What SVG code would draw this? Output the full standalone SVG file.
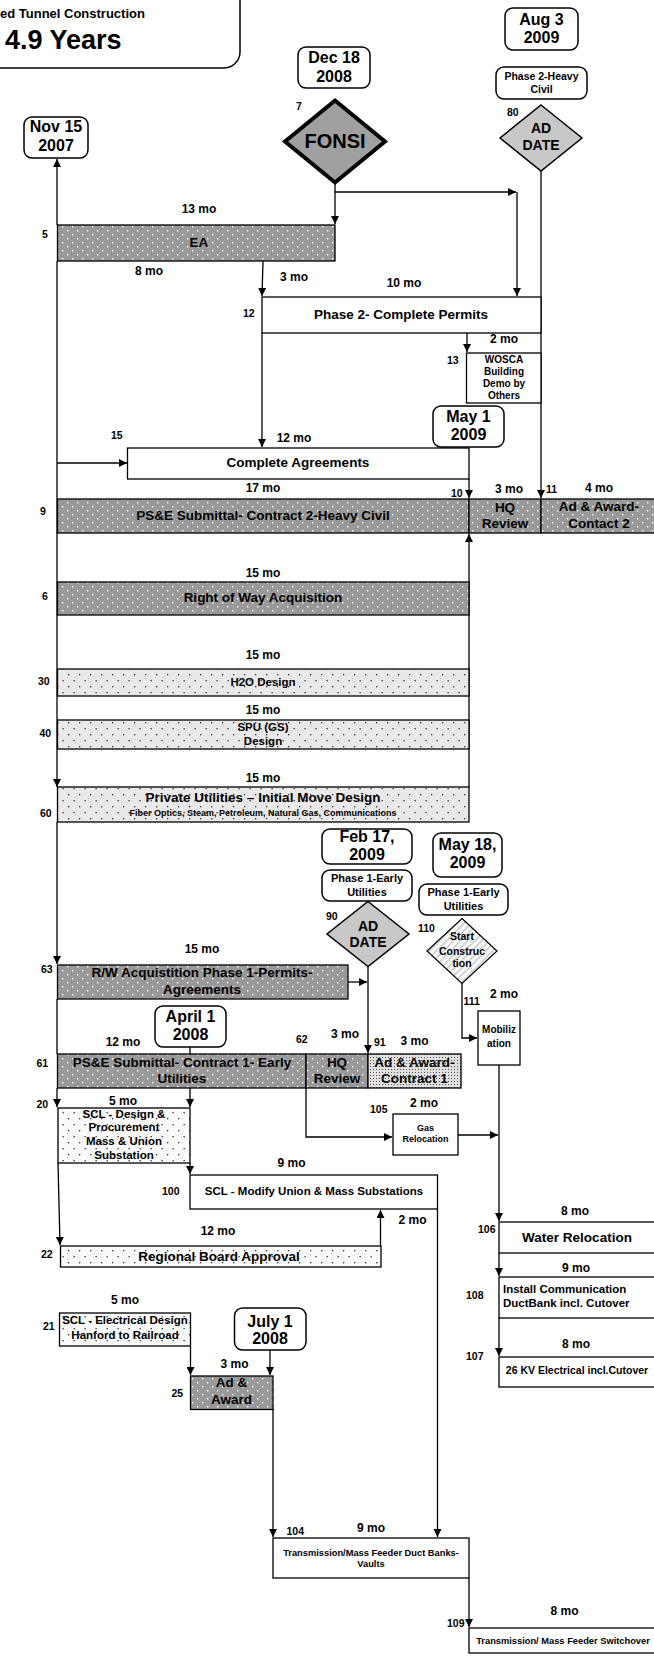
<svg xmlns="http://www.w3.org/2000/svg" width="654" height="1658" viewBox="0 0 654 1658">
<style>
text{font-family:"Liberation Sans",Arial,sans-serif;font-weight:bold;fill:#000}
.c{text-anchor:middle}
.mo{font-size:12px;text-anchor:middle}
.n{font-size:10.5px}
.d{font-size:16px;text-anchor:middle}
.b{stroke:#000;stroke-width:1.3}
.rb{fill:#fff;stroke:#000;stroke-width:1.5}
.w{fill:#fff}
.dk{fill:url(#pd)}
.lt{fill:url(#pl)}
.lw{fill:url(#pw)}
.dn{fill:url(#pn)}
.cn path,.cn line{fill:none;stroke:#000;stroke-width:1.3}
.ar{marker-end:url(#a)}
</style>
<defs>
<pattern id="pd" width="10" height="8" patternUnits="userSpaceOnUse">
<rect width="10" height="8" fill="#999"/>
<rect x="2" y="2" width="1.4" height="1.4" fill="#fff"/>
<rect x="7" y="6" width="1.4" height="1.4" fill="#fff"/>
</pattern>
<pattern id="pl" width="11" height="12" patternUnits="userSpaceOnUse">
<rect width="11" height="12" fill="#e9e9e9"/>
<rect x="2" y="2" width="1.3" height="1.3" fill="#333"/>
<rect x="7.5" y="8" width="1.3" height="1.3" fill="#333"/>
</pattern>
<pattern id="pw" width="11" height="12" patternUnits="userSpaceOnUse">
<rect width="11" height="12" fill="#fafafa"/>
<rect x="2" y="2" width="1.3" height="1.3" fill="#333"/>
<rect x="7.5" y="8" width="1.3" height="1.3" fill="#333"/>
</pattern>
<pattern id="pn" width="3" height="3" patternUnits="userSpaceOnUse">
<rect width="3" height="3" fill="#e0e0e0"/>
<rect x="1" y="1" width="1" height="1" fill="#555"/>
</pattern>
<pattern id="ph" width="5" height="5" patternUnits="userSpaceOnUse" patternTransform="rotate(45)">
<rect width="5" height="5" fill="#fff"/>
<rect width="2" height="5" fill="#d4d4d4"/>
</pattern>
<marker id="a" markerWidth="8" markerHeight="8" refX="8" refY="4" orient="auto" markerUnits="userSpaceOnUse">
<path d="M0,0 L8,4 L0,8 z" fill="#000"/>
</marker>
</defs>

<g id="title">
<rect x="-40" y="-15" width="280" height="83" rx="16" class="rb"/>
<text x="0" y="18" style="font-size:13px">ed Tunnel Construction</text>
<text x="5" y="49" style="font-size:27px">4.9 Years</text>
</g>

<g id="connectors" class="cn">
<line x1="57" y1="225" x2="57" y2="159" class="ar"/>
<line x1="57" y1="261" x2="57" y2="787" class="ar"/>
<line x1="57" y1="463" x2="127" y2="463" class="ar"/>
<line x1="57" y1="822" x2="57" y2="964" class="ar"/>
<line x1="57" y1="999" x2="57" y2="1054"/>
<line x1="57" y1="1088" x2="57" y2="1107" class="ar"/>
<line x1="58" y1="1163" x2="60" y2="1245" class="ar"/>
<line x1="335" y1="183" x2="335" y2="224" class="ar"/>
<line x1="335" y1="192" x2="516" y2="192" class="ar"/>
<line x1="517" y1="192" x2="517" y2="296" class="ar"/>
<line x1="541" y1="171" x2="541" y2="498" class="ar"/>
<line x1="263" y1="261" x2="262" y2="296" class="ar"/>
<line x1="262" y1="333" x2="262" y2="447" class="ar"/>
<line x1="467" y1="333" x2="467" y2="352" class="ar"/>
<line x1="469" y1="479" x2="469" y2="498" class="ar"/>
<line x1="469" y1="787" x2="469" y2="534" class="ar"/>
<line x1="348" y1="982" x2="367" y2="982" class="ar"/>
<line x1="368" y1="967" x2="368" y2="1053" class="ar"/>
<path d="M462,983 V1038 H477" class="ar"/>
<line x1="190" y1="1047" x2="190" y2="1054"/>
<line x1="190" y1="1088" x2="190" y2="1107" class="ar"/>
<line x1="190" y1="1163" x2="190" y2="1174" class="ar"/>
<path d="M306,1088 V1137 H392" class="ar"/>
<line x1="458" y1="1135" x2="498" y2="1135" class="ar"/>
<line x1="499" y1="1065" x2="499" y2="1221" class="ar"/>
<line x1="499" y1="1253" x2="499" y2="1276" class="ar"/>
<line x1="499" y1="1318" x2="499" y2="1356" class="ar"/>
<line x1="380.5" y1="1246" x2="380.5" y2="1210" class="ar"/>
<line x1="437.5" y1="1209" x2="437.5" y2="1537" class="ar"/>
<line x1="190.5" y1="1346" x2="190.5" y2="1375" class="ar"/>
<line x1="270" y1="1350" x2="270" y2="1375" class="ar"/>
<line x1="273" y1="1409" x2="273" y2="1537" class="ar"/>
<line x1="469" y1="1578" x2="469" y2="1627" class="ar"/>
</g>

<g id="dec18">
<rect x="298" y="47" width="72" height="41" rx="8" class="rb"/>
<text x="334" y="63" class="d">Dec 18</text>
<text x="334" y="82" class="d">2008</text>
</g>
<g id="aug3">
<rect x="505" y="8" width="73" height="42" rx="8" class="rb"/>
<text x="541.5" y="25" class="d">Aug 3</text>
<text x="541.5" y="43" class="d">2009</text>
</g>
<g id="phase2heavy">
<rect x="496" y="67" width="91" height="32" rx="8" class="rb"/>
<text x="541.5" y="80" class="c" style="font-size:10.5px">Phase 2-Heavy</text>
<text x="541.5" y="93" class="c" style="font-size:10.5px">Civil</text>
</g>
<g id="nov15">
<rect x="24" y="117" width="64" height="41" rx="8" class="rb"/>
<text x="56" y="132" class="d">Nov 15</text>
<text x="56" y="151" class="d">2007</text>
</g>
<g id="n7">
<text x="296" y="110" class="n">7</text>
<path d="M335,100.5 L385,141.5 L335,182.5 L285,141.5 Z" fill="#a0a0a0" stroke="#000" stroke-width="4" stroke-linejoin="miter"/>
<text x="335" y="148" class="c" style="font-size:20px">FONSI</text>
</g>
<g id="n80">
<text x="507" y="116" class="n">80</text>
<path d="M541,105 L582,138 L541,171 L500,138 Z" fill="#c8c8c8" stroke="#000" stroke-width="1.5"/>
<text x="541" y="133" class="c" style="font-size:14px">AD</text>
<text x="541" y="150" class="c" style="font-size:14px">DATE</text>
</g>
<g id="n5">
<text x="42" y="238" class="n">5</text>
<rect x="57.5" y="225" width="277.5" height="36" class="dk b"/>
<text x="199" y="247" class="c" style="font-size:13.5px">EA</text>
</g>
<g id="n12">
<text x="243" y="317" class="n">12</text>
<rect x="262" y="297" width="279" height="36" class="w b"/>
<text x="401" y="319" class="c" style="font-size:13.5px">Phase 2- Complete Permits</text>
</g>
<g id="n13">
<text x="447" y="364" class="n">13</text>
<rect x="466.5" y="353" width="74.5" height="50" class="w b"/>
<text x="504" y="363" class="c" style="font-size:10px">WOSCA</text>
<text x="504" y="375" class="c" style="font-size:10px">Building</text>
<text x="504" y="387" class="c" style="font-size:10px">Demo by</text>
<text x="504" y="399" class="c" style="font-size:10px">Others</text>
</g>
<g id="may1">
<rect x="433" y="406" width="71" height="41" rx="8" class="rb"/>
<text x="468.5" y="422" class="d">May 1</text>
<text x="468.5" y="440" class="d">2009</text>
</g>
<g id="n15">
<text x="111" y="439" class="n">15</text>
<rect x="127.5" y="448" width="341.5" height="31" class="w b"/>
<text x="298" y="467" class="c" style="font-size:13.5px">Complete Agreements</text>
</g>
<g id="n9">
<text x="40" y="515" class="n">9</text>
<rect x="57.5" y="499" width="411.5" height="34" class="dk b"/>
<text x="263" y="520" class="c" style="font-size:13.5px">PS&amp;E Submittal- Contract 2-Heavy Civil</text>
</g>
<g id="n10">
<rect x="469" y="499" width="72" height="34" class="dk b"/>
<text x="505" y="512" class="c" style="font-size:13.5px">HQ</text>
<text x="505" y="528" class="c" style="font-size:13.5px">Review</text>
</g>
<g id="n11">
<rect x="541" y="499" width="120" height="34" class="dk b"/>
<text x="599" y="511" class="c" style="font-size:13.5px">Ad &amp; Award-</text>
<text x="599" y="528" class="c" style="font-size:13.5px">Contact 2</text>
</g>
<g id="n6">
<text x="42" y="600" class="n">6</text>
<rect x="57.5" y="582" width="411.5" height="33" class="dk b"/>
<text x="263" y="602" class="c" style="font-size:13.5px">Right of Way Acquisition</text>
</g>
<g id="n30">
<text x="38" y="685" class="n">30</text>
<rect x="57.5" y="669" width="411.5" height="27" class="lt b"/>
<text x="263" y="686" class="c" style="font-size:11.5px">H2O Design</text>
</g>
<g id="n40">
<text x="39.5" y="737" class="n">40</text>
<rect x="57.5" y="720" width="411.5" height="29" class="lt b"/>
<text x="263" y="731" class="c" style="font-size:11.5px">SPU (GS)</text>
<text x="263" y="745" class="c" style="font-size:11.5px">Design</text>
</g>
<g id="n60">
<text x="40" y="817" class="n">60</text>
<rect x="57.5" y="787" width="411.5" height="35" class="lt b"/>
<text x="263" y="802" class="c" style="font-size:13.5px">Private Utilities – Initial Move Design</text>
<text x="263" y="816" class="c" style="font-size:9px">Fiber Optics, Steam, Petroleum, Natural Gas, Communications</text>
</g>
<g id="feb17">
<rect x="322" y="829" width="90" height="35" rx="8" class="rb"/>
<text x="367" y="842" class="d">Feb 17,</text>
<text x="367" y="860" class="d">2009</text>
</g>
<g id="phase1a">
<rect x="322" y="870" width="90" height="31" rx="8" class="rb"/>
<text x="367" y="882" class="c" style="font-size:11px">Phase 1-Early</text>
<text x="367" y="896" class="c" style="font-size:11px">Utilities</text>
</g>
<g id="may18">
<rect x="433" y="833" width="69" height="44" rx="8" class="rb"/>
<text x="467.5" y="850" class="d">May 18,</text>
<text x="467.5" y="868" class="d">2009</text>
</g>
<g id="phase1b">
<rect x="419" y="884" width="89" height="31" rx="8" class="rb"/>
<text x="463.5" y="896" class="c" style="font-size:11px">Phase 1-Early</text>
<text x="463.5" y="910" class="c" style="font-size:11px">Utilities</text>
</g>
<g id="n90">
<text x="326" y="920" class="n">90</text>
<path d="M368,901.5 L409,934 L368,966.5 L327,934 Z" fill="#c8c8c8" stroke="#000" stroke-width="1.5"/>
<text x="368" y="931" class="c" style="font-size:14px">AD</text>
<text x="368" y="947" class="c" style="font-size:14px">DATE</text>
</g>
<g id="n110">
<text x="418" y="932" class="n">110</text>
<path d="M462,918.5 L497,951 L462,983.5 L427,951 Z" fill="url(#ph)" stroke="#000" stroke-width="1.2"/>
<text x="462" y="940" class="c" style="font-size:10.5px">Start</text>
<text x="462" y="955" class="c" style="font-size:10.5px">Construc</text>
<text x="462" y="967" class="c" style="font-size:10.5px">tion</text>
</g>
<g id="n63">
<text x="41" y="973" class="n">63</text>
<rect x="57.5" y="965" width="290.5" height="34" class="dk b"/>
<text x="202" y="977" class="c" style="font-size:13.5px">R/W Acquistition Phase 1-Permits-</text>
<text x="202" y="994" class="c" style="font-size:13.5px">Agreements</text>
</g>
<g id="n111">
<text x="463.5" y="1005" class="n">111</text>
<rect x="478" y="1011" width="42" height="54" class="w b"/>
<text x="499" y="1033" class="c" style="font-size:10px">Mobiliz</text>
<text x="499" y="1047" class="c" style="font-size:10px">ation</text>
</g>
<g id="april1">
<rect x="155" y="1006" width="71" height="41" rx="8" class="rb"/>
<text x="190.5" y="1022" class="d">April 1</text>
<text x="190.5" y="1040" class="d">2008</text>
</g>
<g id="n61">
<text x="36.5" y="1067" class="n">61</text>
<rect x="57.5" y="1054" width="248.5" height="34" class="dk b"/>
<text x="182" y="1067" class="c" style="font-size:13.5px">PS&amp;E Submittal- Contract 1- Early</text>
<text x="182" y="1083" class="c" style="font-size:13.5px">Utilities</text>
</g>
<g id="n62">
<text x="296" y="1043" class="n">62</text>
<rect x="306" y="1054" width="62" height="34" class="dk b"/>
<text x="337" y="1067" class="c" style="font-size:13.5px">HQ</text>
<text x="337" y="1083" class="c" style="font-size:13.5px">Review</text>
</g>
<g id="n91">
<text x="374" y="1046" class="n">91</text>
<rect x="368" y="1054" width="93" height="34" class="dn b"/>
<text x="414.5" y="1067" class="c" style="font-size:13.5px">Ad &amp; Award-</text>
<text x="414.5" y="1083" class="c" style="font-size:13.5px">Contract 1</text>
</g>
<g id="n20">
<text x="36.5" y="1108" class="n">20</text>
<rect x="58" y="1108" width="132" height="55" class="lw b"/>
<text x="124" y="1118" class="c" style="font-size:11.5px">SCL - Design &amp;</text>
<text x="124" y="1131" class="c" style="font-size:11.5px">Procurement</text>
<text x="124" y="1145" class="c" style="font-size:11.5px">Mass &amp; Union</text>
<text x="124" y="1159" class="c" style="font-size:11.5px">Substation</text>
</g>
<g id="n105">
<text x="370" y="1113" class="n">105</text>
<rect x="393" y="1114" width="65" height="41" class="w b"/>
<text x="425.5" y="1131" class="c" style="font-size:9px">Gas</text>
<text x="425.5" y="1142" class="c" style="font-size:9px">Relocation</text>
</g>
<g id="n100">
<text x="162" y="1195" class="n">100</text>
<rect x="190" y="1175" width="247.5" height="34" class="w b"/>
<text x="314" y="1195" class="c" style="font-size:11.5px">SCL - Modify Union &amp; Mass Substations</text>
</g>
<g id="n22">
<text x="41" y="1258" class="n">22</text>
<rect x="60.5" y="1246" width="320.5" height="21" class="lw b"/>
<text x="219" y="1261" class="c" style="font-size:13.5px">Regional Board Approval</text>
</g>
<g id="n106">
<text x="478" y="1233" class="n">106</text>
<rect x="499" y="1222" width="161" height="31" class="w b"/>
<text x="577" y="1242" class="c" style="font-size:13.5px">Water Relocation</text>
</g>
<g id="n108">
<text x="466" y="1299" class="n">108</text>
<rect x="499" y="1277" width="161" height="41" class="w b"/>
<text x="503" y="1293" style="font-size:11.5px">Install Communication</text>
<text x="503" y="1307" style="font-size:11.5px">DuctBank incl. Cutover</text>
</g>
<g id="n107">
<text x="466" y="1360" class="n">107</text>
<rect x="499" y="1357" width="161" height="30" class="w b"/>
<text x="577" y="1374" class="c" style="font-size:10.5px">26 KV Electrical incl.Cutover</text>
</g>
<g id="n21">
<text x="43" y="1330" class="n">21</text>
<rect x="59.5" y="1313" width="131" height="33" class="lw b"/>
<text x="125" y="1324" class="c" style="font-size:11.5px">SCL - Electrical Design</text>
<text x="125" y="1339" class="c" style="font-size:11.5px">Hanford to Railroad</text>
</g>
<g id="july1">
<rect x="234.5" y="1308" width="71.5" height="42" rx="8" class="rb"/>
<text x="270" y="1327" class="d">July 1</text>
<text x="270" y="1344" class="d">2008</text>
</g>
<g id="n25">
<text x="171.5" y="1397" class="n">25</text>
<rect x="190.5" y="1376" width="82.5" height="33.5" class="dk b"/>
<text x="231.5" y="1387" class="c" style="font-size:13.5px">Ad &amp;</text>
<text x="231.5" y="1404" class="c" style="font-size:13.5px">Award</text>
</g>
<g id="n104">
<text x="286.5" y="1535" class="n">104</text>
<rect x="273" y="1538" width="196" height="40" class="w b"/>
<text x="371" y="1556" class="c" style="font-size:9.3px">Transmission/Mass Feeder Duct Banks-</text>
<text x="371" y="1567" class="c" style="font-size:9.3px">Vaults</text>
</g>
<g id="n109">
<text x="447" y="1627" class="n">109</text>
<rect x="469" y="1628" width="191" height="25" class="w b"/>
<text x="563" y="1644" class="c" style="font-size:9.3px">Transmission/ Mass Feeder Switchover</text>
</g>

<g id="durations">
<text x="199" y="213" class="mo">13 mo</text>
<text x="149" y="275" class="mo">8 mo</text>
<text x="294" y="281" class="mo">3 mo</text>
<text x="404" y="287" class="mo">10 mo</text>
<text x="504" y="343" class="mo">2 mo</text>
<text x="294" y="442" class="mo">12 mo</text>
<text x="263" y="492" class="mo">17 mo</text>
<text x="451" y="497" class="n">10</text>
<text x="509" y="493" class="mo">3 mo</text>
<text x="546" y="493" class="n">11</text>
<text x="599" y="492" class="mo">4 mo</text>
<text x="263" y="577" class="mo">15 mo</text>
<text x="263" y="659" class="mo">15 mo</text>
<text x="263" y="714" class="mo">15 mo</text>
<text x="263" y="782" class="mo">15 mo</text>
<text x="202" y="953" class="mo">15 mo</text>
<text x="504" y="998" class="mo">2 mo</text>
<text x="123" y="1046" class="mo">12 mo</text>
<text x="345" y="1038" class="mo">3 mo</text>
<text x="414.5" y="1045" class="mo">3 mo</text>
<text x="123" y="1105" class="mo">5 mo</text>
<text x="424" y="1107" class="mo">2 mo</text>
<text x="291.5" y="1167" class="mo">9 mo</text>
<text x="412.5" y="1224" class="mo">2 mo</text>
<text x="218" y="1235" class="mo">12 mo</text>
<text x="575" y="1215" class="mo">8 mo</text>
<text x="576" y="1272" class="mo">9 mo</text>
<text x="576" y="1348" class="mo">8 mo</text>
<text x="125" y="1304" class="mo">5 mo</text>
<text x="234.5" y="1368" class="mo">3 mo</text>
<text x="371" y="1532" class="mo">9 mo</text>
<text x="564.5" y="1615" class="mo">8 mo</text>
</g>
</svg>
